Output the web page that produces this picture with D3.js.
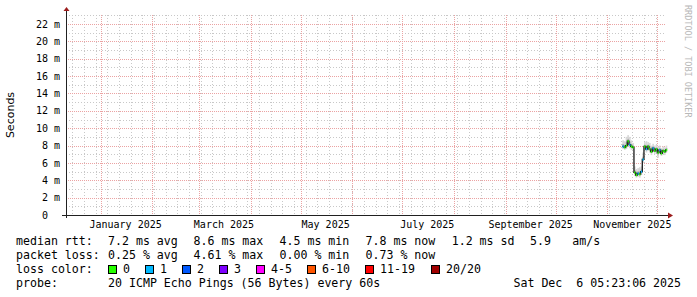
<!DOCTYPE html>
<html>
<head>
<meta charset="utf-8">
<script src="https://cdn.jsdelivr.net/npm/d3@7"></script>
<style>
body { margin: 0; background: #fff; }
svg { display: block; }
</style>
</head>
<body>
<div id="graph"></div>
<script>
// daily buckets (UTC)
const days = ["2025-11-10","2025-11-11","2025-11-12","2025-11-13","2025-11-14","2025-11-15","2025-11-16",
    "2025-11-17","2025-11-18","2025-11-19","2025-11-20","2025-11-21","2025-11-22","2025-11-23","2025-11-24",
    "2025-11-25","2025-11-26","2025-11-27","2025-11-28","2025-11-29","2025-11-30","2025-12-01","2025-12-02",
    "2025-12-03","2025-12-04","2025-12-05","2025-12-06"];
const medianMs  = [7.9, 7.8, 8.0, 8.5, 8.1, 7.9, 7.8, 4.9, 4.6, 4.8, 4.7, 5.0, 6.4, 7.9, 7.6, 7.9, 7.6, 7.3, 7.7, 7.4, 7.6, 7.2, 7.5, 7.1, 7.4, 7.3, 7.5];
const smokeHiMs = [8.6, 8.5, 9.0, 9.2, 9.0, 8.6, 8.3, 5.6, 5.3, 5.4, 5.5, 5.6, 7.2, 8.4, 8.5, 8.4, 8.3, 8.0, 8.2, 8.0, 8.1, 7.9, 8.0, 7.7, 7.9, 7.8, 8.0];
const smokeLoMs = [7.6, 7.5, 7.6, 7.9, 7.7, 7.5, 7.5, 4.5, 4.3, 4.4, 4.3, 4.6, 6.0, 7.5, 7.2, 7.4, 7.2, 6.9, 7.3, 7.0, 7.2, 6.6, 7.1, 6.8, 7.0, 6.9, 7.2];
const lossCount = [1, 0, 0, 0, 1, 0, 0, 0, 0, 1, 0, 1, 1, 0, 1, 0, 0, 0, 1, 0, 0, 0, 1, 0, 0, 0, 0];

const lossLabels = ["0", "1", "2", "3", "4-5", "6-10", "11-19", "20/20"];
const lossColors = ["#26ff00", "#00b8ff", "#0059ff", "#7e00ff", "#ff00ff", "#ff5500", "#ff0000", "#a10000"];

const yMajorMs = [0, 2, 4, 6, 8, 10, 12, 14, 16, 18, 20, 22];
const yMinorMs = [1, 3, 5, 7, 9, 11, 13, 15, 17, 19, 21, 23];
const monthLabels = ["January 2025", "March 2025", "May 2025", "July 2025", "September 2025", "November 2025"];

const rttStats  = ["7.2 ms avg", "8.6 ms max", "4.5 ms min", "7.8 ms now", "1.2 ms sd", "5.9", "am/s"];
const lossStats = ["0.25 % avg", "4.61 % max", "0.00 % min", "0.73 % now"];
const probeText = "20 ICMP Echo Pings (56 Bytes) every 60s";
const stampText = "Sat Dec  6 05:23:06 2025";

const W = 697, H = 297;
const plot = { left: 66, right: 666, top: 15, bottom: 215 };
const mono = "'DejaVu Sans Mono', 'Liberation Mono', monospace";

const endTime = new Date(Date.UTC(2025, 11, 6, 5, 23, 6));
const startTime = new Date(endTime.getTime() - 360 * 86400000);

const x = d3.scaleUtc().domain([startTime, endTime]).range([plot.left, plot.right]);
const y = d3.scaleLinear().domain([0, 23.04]).range([plot.bottom, plot.top]);

const svg = d3.select("#graph").append("svg")
    .attr("width", W).attr("height", H)
    .style("background", "#fff");

// minor grid
const weeks = d3.utcSunday.range(startTime, endTime);
svg.append("g").selectAll("line").data(weeks).enter().append("line")
    .attr("x1", d => Math.round(x(d)) + 0.5).attr("x2", d => Math.round(x(d)) + 0.5)
    .attr("y1", plot.top).attr("y2", plot.bottom)
    .attr("stroke", "#c8c8c8").attr("stroke-dasharray", "1,2");
svg.append("g").selectAll("line").data(yMinorMs).enter().append("line")
    .attr("x1", plot.left).attr("x2", plot.right)
    .attr("y1", d => Math.round(y(d)) + 0.5).attr("y2", d => Math.round(y(d)) + 0.5)
    .attr("stroke", "#c8c8c8").attr("stroke-dasharray", "1,2");

// major grid
const months = d3.utcMonth.range(startTime, endTime);
svg.append("g").selectAll("line").data(months).enter().append("line")
    .attr("x1", d => Math.round(x(d)) + 0.5).attr("x2", d => Math.round(x(d)) + 0.5)
    .attr("y1", plot.top).attr("y2", plot.bottom)
    .attr("stroke", "#eba3a3").attr("stroke-dasharray", "1,1");
svg.append("g").selectAll("line").data(yMajorMs.slice(1)).enter().append("line")
    .attr("x1", plot.left).attr("x2", plot.right)
    .attr("y1", d => Math.round(y(d)) + 0.5).attr("y2", d => Math.round(y(d)) + 0.5)
    .attr("stroke", "#eba3a3").attr("stroke-dasharray", "1,1");

// smoke
const parse = d3.utcParse("%Y-%m-%d");
const pts = days.map((d, i) => ({
    t: parse(d), med: medianMs[i], hi: smokeHiMs[i], lo: smokeLoMs[i], loss: lossCount[i]
}));
const dayPx = x(new Date(86400000 + startTime.getTime())) - x(startTime);

svg.append("g").selectAll("rect").data(pts).enter().append("rect")
    .attr("x", d => x(d.t)).attr("width", dayPx)
    .attr("y", d => y(d.hi)).attr("height", d => y(d.lo) - y(d.hi))
    .attr("fill", "#d8d8d8");
svg.append("g").selectAll("rect").data(pts).enter().append("rect")
    .attr("x", d => x(d.t)).attr("width", dayPx)
    .attr("y", d => y(d.med + (d.hi - d.med) * 0.4)).attr("height", d => y(d.lo + (d.med - d.lo) * 0.6) - y(d.med + (d.hi - d.med) * 0.4))
    .attr("fill", "#b0b0b0");

// median
const stepPts = pts.concat([{ t: endTime, med: pts[pts.length - 1].med }]);
svg.append("path")
    .datum(stepPts)
    .attr("d", d3.line().x(d => x(d.t)).y(d => y(d.med)).curve(d3.curveStepAfter))
    .attr("fill", "none").attr("stroke", "#1a1a1a").attr("stroke-width", 1.3);
svg.append("g").selectAll("rect").data(pts).enter().append("rect")
    .attr("x", d => x(d.t) + 0.2).attr("width", 1.3)
    .attr("y", d => y(d.med) - 1).attr("height", 2.2)
    .attr("fill", d => lossColors[d.loss]);

// axes
svg.append("line")
    .attr("x1", plot.left - 4).attr("x2", plot.right + 2)
    .attr("y1", plot.bottom + 0.5).attr("y2", plot.bottom + 0.5)
    .attr("stroke", "#202020");
svg.append("line")
    .attr("x1", plot.left + 0.5).attr("x2", plot.left + 0.5)
    .attr("y1", plot.top - 4).attr("y2", plot.bottom + 3)
    .attr("stroke", "#202020");
svg.append("path")
    .attr("d", `M${plot.left - 2.5},${plot.top - 4} L${plot.left + 0.5},${plot.top - 8} L${plot.left + 3.5},${plot.top - 4} Z`)
    .attr("fill", "#9b1c1c");
svg.append("path")
    .attr("d", `M${plot.right + 2},${plot.bottom - 2.5} L${plot.right + 7},${plot.bottom + 0.5} L${plot.right + 2},${plot.bottom + 3.5} Z`)
    .attr("fill", "#9b1c1c");

// y labels
const yl = svg.append("g").attr("font-family", mono).attr("font-size", 10).attr("fill", "#000");
yl.selectAll("text.num").data(yMajorMs).enter().append("text")
    .attr("x", 48).attr("y", d => y(d) + 3.6)
    .attr("text-anchor", "end").text(d => d);
yl.selectAll("text.unit").data(yMajorMs.slice(1)).enter().append("text")
    .attr("x", 54).attr("y", d => y(d) + 3.6).text("m");

// x labels at mid-month
svg.append("g").attr("font-family", mono).attr("font-size", 10).attr("fill", "#000")
    .selectAll("text").data(monthLabels).enter().append("text")
    .attr("x", (d, i) => x(new Date(Date.UTC(2025, i * 2, 16))))
    .attr("y", 228).attr("text-anchor", "middle").text(d => d);

// y title
svg.append("text")
    .attr("transform", "translate(14," + ((plot.top + plot.bottom) / 2) + ") rotate(-90)")
    .attr("text-anchor", "middle")
    .attr("font-family", "'DejaVu Sans', sans-serif").attr("font-size", 11)
    .text("Seconds");

// watermark
svg.append("text")
    .attr("transform", "translate(685,5) rotate(90)")
    .attr("font-family", mono).attr("font-size", 8.5).attr("fill", "#b8b8b8")
    .text("RRDTOOL / TOBI OETIKER");

// legend
const lg = svg.append("g").attr("font-family", mono).attr("font-size", 11.6).attr("fill", "#000")
    .style("white-space", "pre");
lg.append("text").attr("x", 16).attr("y", 245).text("median rtt:");
const rttX = [108, 193.5, 279.5, 365.5, 451.7, 530, 572.3];
lg.selectAll("text.rtt").data(rttStats).enter().append("text")
    .attr("x", (d, i) => rttX[i]).attr("y", 245).text(d => d);

lg.append("text").attr("x", 16).attr("y", 259).text("packet loss:");
const lossX = [108, 193.5, 279.5, 365.5];
lg.selectAll("text.loss").data(lossStats).enter().append("text")
    .attr("x", (d, i) => lossX[i]).attr("y", 259).text(d => d);

lg.append("text").attr("x", 16).attr("y", 273).text("loss color:");
const boxX = [108, 145, 182, 219, 256, 307, 365, 431];
lg.selectAll("rect").data(lossLabels).enter().append("rect")
    .attr("x", (d, i) => boxX[i] + 0.5).attr("y", 265.5)
    .attr("width", 8).attr("height", 8)
    .attr("fill", (d, i) => lossColors[i]).attr("stroke", "#000");
lg.selectAll("text.lc").data(lossLabels).enter().append("text")
    .attr("x", (d, i) => boxX[i] + 15).attr("y", 273).text(d => d);

lg.append("text").attr("x", 16).attr("y", 287).text("probe:");
lg.append("text").attr("x", 108).attr("y", 287).text(probeText);
lg.append("text").attr("x", 681).attr("y", 287).attr("text-anchor", "end")
    .attr("xml:space", "preserve").text(stampText);
</script>
</body>
</html>
